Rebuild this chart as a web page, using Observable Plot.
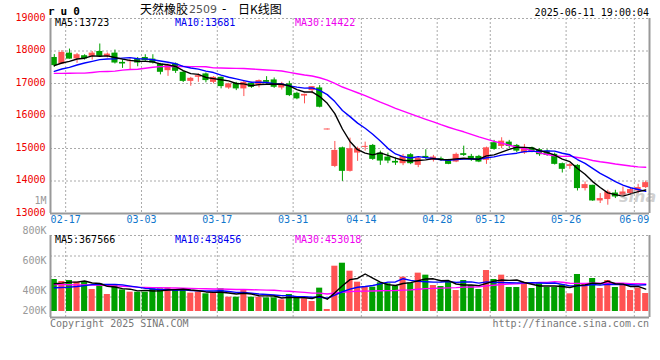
<!DOCTYPE html>
<html><head><meta charset="utf-8">
<script src="https://cdn.jsdelivr.net/npm/d3@7"></script>
<script src="https://cdn.jsdelivr.net/npm/@observablehq/plot@0.6"></script>
<style>
html,body{margin:0;padding:0;background:#fff;}
#chart{position:relative;width:660px;height:360px;overflow:hidden;background:#fff;font-family:"DejaVu Sans Mono",monospace;}
#chart svg{position:absolute;left:0;}
.t{position:absolute;white-space:nowrap;font-size:10px;line-height:10px;font-family:"DejaVu Sans Mono",monospace;}
</style></head><body><div id="chart"></div>
<script>
// ---- data ----
const dates = ["02-13","02-14","02-17","02-18","02-19","02-20","02-21","02-24","02-25","02-26","02-27","02-28",
"03-03","03-04","03-05","03-06","03-07","03-10","03-11","03-12","03-13","03-14","03-17","03-18","03-19","03-20","03-21","03-24","03-25","03-26","03-27","03-28","03-31",
"04-01","04-02","04-03","04-07","04-08","04-09","04-10","04-11","04-14","04-15","04-16","04-17","04-18","04-21","04-22","04-23","04-24","04-25","04-28","04-29","04-30",
"05-06","05-07","05-08","05-09","05-12","05-13","05-14","05-15","05-16","05-19","05-20","05-21","05-22","05-23","05-26","05-27","05-28","05-29","05-30",
"06-03","06-04","06-05","06-06","06-09","06-10"];
const open = [17800,17600,17935,17755,17855,17835,17985,17825,17935,17650,17670,17755,17800,17750,17600,17395,17600,17345,17065,17190,
17295,17035,17190,16861,17007,16834,17007,16935,17090,17110,16861,16987,16700,16613,16781,16864,15570,14448,15021,14297,
14859,15035,15095,14860,14736,14604,14533,14809,14481,14757,14636,14687,14636,14583,14840,14757,14757,14636,15178,15064,
15196,15095,14859,15024,14962,14920,14819,14533,14450,14481,13767,13868,13386,13429,13630,13560,13613,13693,13797];
const high = [17890,18010,18060,17925,17885,17985,18215,17940,18030,17720,17755,17800,17885,17885,17620,17600,17630,17375,17190,17295,
17325,17210,17200,17007,17036,17067,17036,17110,17210,17170,17036,17067,16730,16670,16904,16935,15600,15216,15043,15319,
15043,15196,15125,14920,14859,14717,14819,14840,14717,14962,14788,14736,14665,14859,15073,14819,14788,15043,15250,15331,
15250,15125,15125,15043,14993,14962,14860,14552,14533,14503,13970,13868,13613,13715,13715,13816,13790,13899,14000];
const low = [17500,17580,17750,17620,17720,17720,17800,17785,17600,17465,17415,17515,17680,17600,17265,17220,17310,17030,16915,17035,
17020,16990,16835,16820,16781,16598,16850,16865,16987,16850,16800,16598,16500,16374,16680,16250,15570,14411,13987,14276,
14604,14920,14635,14480,14533,14480,14472,14502,14411,14656,14583,14604,14502,14564,14757,14604,14564,14512,14943,14994,
14993,14869,14819,14870,14757,14757,14490,14246,14359,13693,13693,13375,13307,13255,13460,13530,13560,13613,13767];
const close = [17550,17955,17750,17885,17755,17935,17835,17905,17630,17600,17700,17630,17700,17630,17345,17570,17375,17065,17160,17240,
17090,17190,16905,16987,16834,17036,16883,17090,17036,16883,16987,16628,16528,16665,16904,16269,15600,14940,14297,14993,
14993,15065,14665,14613,14613,14552,14757,14533,14705,14705,14736,14636,14512,14819,14788,14655,14583,15021,14972,15226,
15064,14920,14993,14890,14809,14788,14512,14359,14503,13767,13889,13386,13460,13662,13509,13662,13736,13797,13950];
const ma5 = [17548,17631,17680,17754,17779,17850,17840,17850,17800,17750,17710,17685,17680,17665,17601,17575,17524,17397,17303,17282,
17186,17149,17117,17082,17001,16990,16929,16966,16976,16986,16976,16925,16812,16738,16742,16599,16391,16074,15600,15218,
14963,14858,14803,14866,14790,14702,14640,14614,14632,14650,14687,14663,14659,14682,14698,14682,14671,14773,14804,14891,
14973,15041,15035,15019,14935,14880,14798,14672,14594,14386,14206,13981,13801,13633,13581,13536,13606,13673,13723];
const ma10 = [17374,17447,17496,17570,17631,17680,17733,17754,17760,17780,17795,17763,17758,17732,17691,17655,17609,17525,17478,17442,
17381,17337,17257,17193,17142,17088,17039,17042,17029,16993,16983,16927,16889,16857,16864,16787,16658,16443,16169,15980,
15781,15624,15438,15233,15004,14832,14749,14708,14749,14720,14694,14652,14636,14657,14674,14685,14667,14716,14743,14795,
14828,14856,14904,14911,14913,14927,14920,14853,14806,14661,14543,14390,14236,14114,13984,13871,13793,13737,13681];
const ma30 = [17312,17312,17315,17318,17320,17340,17365,17370,17380,17410,17430,17440,17470,17500,17520,17525,17525,17525,17520,17520,
17515,17480,17475,17470,17465,17460,17447,17430,17415,17405,17386,17342,17301,17261,17232,17177,17102,17003,16892,16805,
16715,16629,16528,16428,16336,16236,16149,16064,15982,15898,15819,15734,15655,15582,15514,15435,15358,15289,15220,15165,
15101,15044,14993,14934,14864,14814,14779,14759,14766,14725,14688,14632,14592,14561,14524,14494,14460,14435,14422];
const volume = [525000,492000,508000,481000,492000,361000,454000,279000,426000,355000,317000,317000,317000,372000,372000,388000,344000,355000,301000,317000,
290000,301000,372000,235000,235000,355000,235000,235000,224000,224000,191000,279000,224000,208000,164000,383000,33000,743000,792000,661000,
481000,399000,399000,470000,454000,415000,563000,465000,629000,596000,426000,410000,481000,344000,508000,426000,361000,672000,525000,596000,
394000,394000,470000,377000,454000,394000,394000,437000,290000,607000,454000,541000,377000,508000,394000,426000,344000,383000,295000];
const vma5 = [454000,465000,481000,481000,500000,467000,459000,413000,402000,375000,366000,339000,346000,336000,339000,353000,359000,366000,352000,341000,
321000,313000,316000,303000,287000,300000,286000,259000,257000,255000,222000,231000,228000,225000,213000,252000,202000,306000,423000,522000,
542000,615000,546000,482000,441000,427000,460000,473000,505000,534000,536000,505000,508000,451000,434000,434000,424000,462000,498000,516000,
510000,516000,476000,446000,418000,418000,418000,411000,394000,424000,436000,466000,454000,497000,455000,449000,410000,411000,368000];
const vma10 = [389000,394000,399000,410000,425000,440000,445000,445000,445000,437000,417000,399000,380000,369000,357000,360000,349000,356000,344000,340000,
337000,336000,341000,328000,314000,311000,300000,288000,280000,271000,261000,259000,244000,241000,234000,237000,217000,267000,324000,368000,
397000,409000,426000,453000,482000,485000,538000,510000,494000,487000,482000,483000,491000,478000,484000,485000,465000,485000,475000,475000,
472000,470000,469000,472000,467000,464000,467000,444000,420000,421000,427000,442000,433000,446000,440000,443000,438000,433000,438000];
const vma30 = [440000,440000,438000,437000,436000,435000,432000,425000,420000,415000,410000,400000,395000,392000,390000,388000,385000,382000,378000,375000,
372000,370000,368000,365000,362000,360000,357000,354000,351000,349000,338000,331000,322000,313000,302000,302000,288000,304000,316000,326000,
332000,334000,337000,340000,343000,344000,351000,355000,366000,375000,380000,383000,387000,391000,400000,402000,406000,421000,431000,443000,
450000,454000,462000,468000,477000,478000,490000,480000,463000,461000,460000,465000,464000,465000,463000,464000,456000,454000,453000];
const xTickDates = ["02-17","03-03","03-17","03-31","04-14","04-28","05-12","05-26","06-09"];
const priceTicks = [13000,14000,15000,16000,17000,18000,19000];
const volTickValues = [1000000,800000,600000,400000,200000];
const volTickLabels = ["1M","800K","600K","400K","200K"];
const maPriceLabels = ["MA5:13723","MA10:13681","MA30:14422"];
const maVolLabels = ["MA5:367566","MA10:438456","MA30:453018"];

// ---- build ----
const RED = "#ff5353", GREEN = "#00a000", GRID = "#aaaaaa", AXIS = "#999999";
const rows = dates.map((d, i) => ({i, d, o: open[i], h: high[i], l: low[i], c: close[i], v: volume[i],
  ma5: ma5[i], ma10: ma10[i], ma30: ma30[i], vma5: vma5[i], vma10: vma10[i], vma30: vma30[i],
  col: close[i] >= open[i] ? RED : GREEN}));
const xDomain = [-0.5, dates.length - 0.5];
const gx = d => dates.indexOf(d) - 0.5;
const font = "DejaVu Sans Mono, monospace";
const chart = document.getElementById("chart");

const main = Plot.plot({
  width: 660, height: 232, marginLeft: 50, marginRight: 11, marginTop: 18, marginBottom: 19,
  style: {background: "transparent", overflow: "visible", fontFamily: font},
  x: {domain: xDomain, axis: null},
  y: {domain: [priceTicks[0], priceTicks[priceTicks.length - 1]], axis: null},
  color: {type: "identity"},
  marks: [
    Plot.ruleY(priceTicks.slice(1), {stroke: GRID, strokeDasharray: "2,2"}),
    Plot.ruleX(xTickDates, {x: gx, stroke: GRID, strokeDasharray: "2,2"}),
    Plot.ruleX(rows, {x: "i", y1: "l", y2: "h", stroke: "col", strokeWidth: 1}),
    Plot.rect(rows, {x1: d => d.i - 0.4, x2: d => d.i + 0.4, y1: "o", y2: "c", fill: "col"}),
    Plot.line(rows, {x: "i", y: "ma30", stroke: "#ff00ff", strokeWidth: 1.4}),
    Plot.line(rows, {x: "i", y: "ma10", stroke: "#0000ff", strokeWidth: 1.4}),
    Plot.line(rows, {x: "i", y: "ma5", stroke: "#000000", strokeWidth: 1.4}),
    Plot.ruleX([xDomain[0], xDomain[1]], {stroke: AXIS, strokeWidth: 2}),
    Plot.ruleY([priceTicks[0]], {stroke: AXIS, strokeWidth: 2}),
    Plot.text(priceTicks, {y: d => d, text: d => String(d), frameAnchor: "left", dx: -5, dy: -1,
      textAnchor: "end", fill: "#ee0000", fontSize: 10}),
    Plot.text(xTickDates, {x: gx, text: d => d, frameAnchor: "bottom", dy: 9, fill: "#1177cc", fontSize: 10})
  ]
});
main.style.top = "0px";
chart.appendChild(main);

const volDomain = [-98400, 1246400];
const volGrid = [1, 2, 3].map(k => volDomain[0] + k * (volDomain[1] - volDomain[0]) / 4);
const vol = Plot.plot({
  width: 660, height: 100, marginLeft: 50, marginRight: 11, marginTop: 5, marginBottom: 13,
  style: {background: "transparent", overflow: "visible", fontFamily: font},
  x: {domain: xDomain, axis: null},
  y: {domain: volDomain, axis: null},
  color: {type: "identity"},
  marks: [
    Plot.ruleY(volGrid, {stroke: GRID, strokeDasharray: "2,2"}),
    Plot.ruleY([volDomain[1]], {stroke: GRID, strokeDasharray: "2,2"}),
    Plot.ruleX(xTickDates, {x: gx, stroke: GRID, strokeDasharray: "2,2"}),
    Plot.rect(rows, {x1: d => d.i - 0.4, x2: d => d.i + 0.4, y1: 0, y2: "v", fill: "col"}),
    Plot.line(rows, {x: "i", y: "vma30", stroke: "#ff00ff", strokeWidth: 1.4}),
    Plot.line(rows, {x: "i", y: "vma10", stroke: "#0000ff", strokeWidth: 1.4}),
    Plot.line(rows, {x: "i", y: "vma5", stroke: "#000000", strokeWidth: 1.4}),
    Plot.ruleX([xDomain[0], xDomain[1]], {stroke: AXIS, strokeWidth: 2}),
    Plot.ruleY([volDomain[0]], {stroke: AXIS, strokeWidth: 2})
  ]
});
vol.style.top = "230px";
chart.appendChild(vol);

// volume axis labels (Sina spaces them 30px per 200K, bottom label kept inside the panel)
const volLabels = Plot.plot({
  width: 50, height: 130, margin: 0,
  style: {background: "transparent", overflow: "visible", fontFamily: font},
  y: {domain: [200000, 1066667], axis: null},
  marks: [
    Plot.text(volTickValues, {y: d => Math.max(d, 266667), text: (d, i) => volTickLabels[i],
      frameAnchor: "right", dx: -4, textAnchor: "end", fill: "#999999", fontSize: 10})
  ]
});
volLabels.style.top = "190px";
chart.appendChild(volLabels);

function addText(txt, css) {
  const el = document.createElement("div");
  el.className = "t";
  el.textContent = txt;
  Object.assign(el.style, css);
  chart.appendChild(el);
  return el;
}
// header
addText("ru0", {left: "48px", top: "6px", fontSize: "11px", lineHeight: "11px", fontWeight: "bold", letterSpacing: "6px", color: "#000"});
addText("天然橡胶", {left: "140px", top: "2px", fontSize: "12px", lineHeight: "13px", fontFamily: "'Noto Sans CJK SC'", color: "#000"});
addText("2509", {left: "189px", top: "4px", fontSize: "11px", lineHeight: "11px", fontFamily: "'DejaVu Sans'", color: "#555"});
addText("-", {left: "222px", top: "3px", fontSize: "12px", lineHeight: "12px", fontFamily: "'DejaVu Sans'", color: "#000"});
addText("日K线图", {left: "238px", top: "2px", fontSize: "12px", lineHeight: "13px", fontFamily: "'Noto Sans CJK SC'", color: "#000"});
addText("2025-06-11 19:00:04", {right: "11px", top: "7.5px", color: "#000"});
// MA labels
const maColors = ["#000000", "#0000ee", "#ee00ee"];
const maLeft = [55, 175, 295];
maPriceLabels.forEach((s, k) => addText(s, {left: maLeft[k] + "px", top: "18px", color: maColors[k]}));
maVolLabels.forEach((s, k) => addText(s, {left: maLeft[k] + "px", top: "235px", color: maColors[k]}));
// footer
addText("Copyright 2025 SINA.COM", {left: "50px", top: "318.5px", color: "#777"});
addText("http://finance.sina.com.cn", {right: "11px", top: "318.5px", color: "#777"});
// watermark
addText("sina", {left: "619px", top: "189px", fontSize: "16px", lineHeight: "16px", fontFamily: "'DejaVu Sans'", fontStyle: "italic", fontWeight: "bold", color: "rgba(150,150,150,0.45)"});
</script></body></html>
